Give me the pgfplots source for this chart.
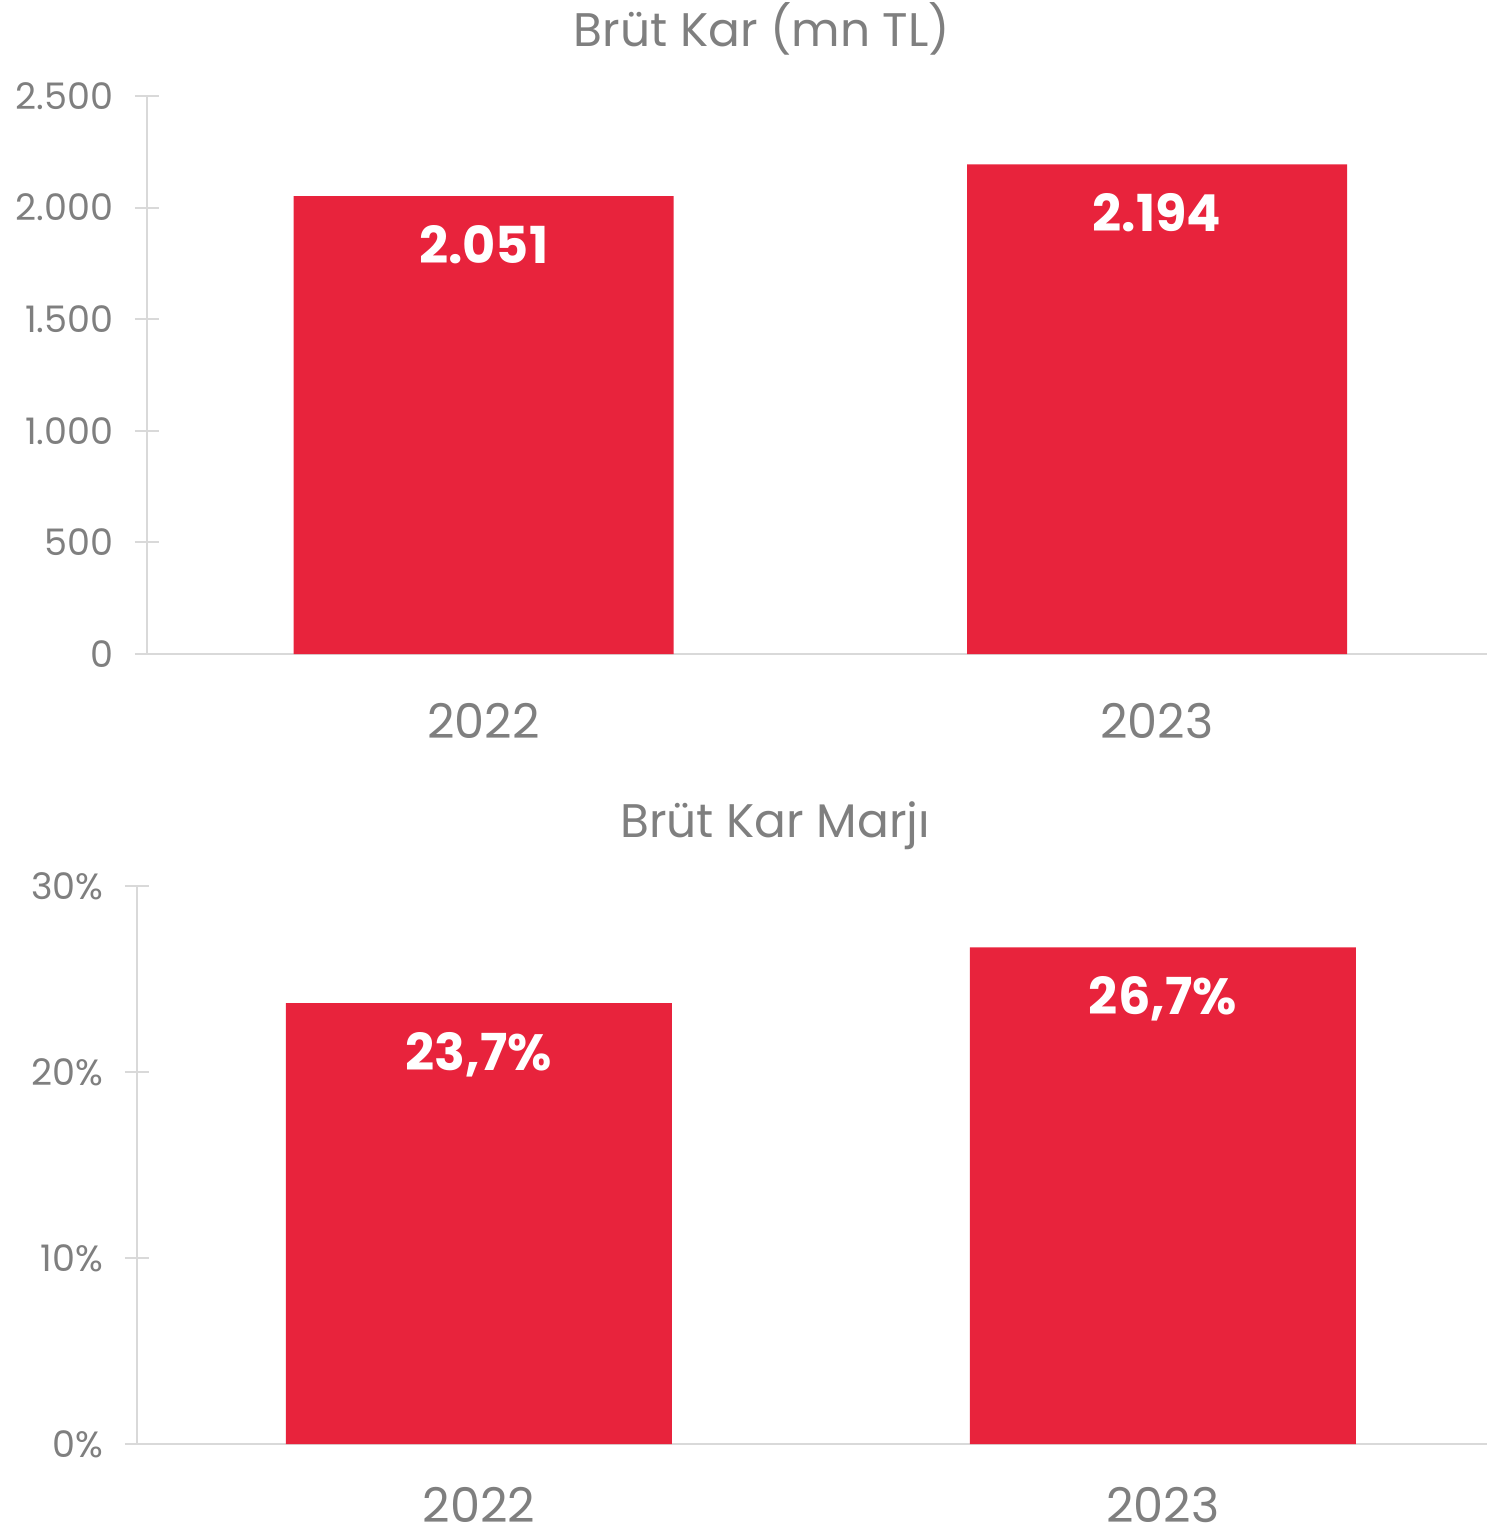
\documentclass[border=0pt]{standalone}
\usepackage{fontspec}
\setmainfont{Poppins}
\usepackage{pgfplots}
\pgfplotsset{compat=1.18}

\definecolor{barred}{HTML}{E8233C}
\definecolor{txtgray}{HTML}{7F7F7F}
\definecolor{axgray}{HTML}{D9D9D9}

\pgfplotsset{
  brutbase/.style={
    scale only axis,
    ybar,
    axis x line*=bottom,
    axis y line*=left,
    axis line style={axgray, line width=0.2mm, -},
    xtick=data,
    xticklabels={2022,2023},
    major x tick style={draw=none},
    major y tick style={axgray, line width=0.2mm},
    ytick align=center,
    major tick length=2.4mm,
    ymin=0,
    enlarge x limits=false,
    /pgf/number format/assume math mode=true,
    yticklabel style={anchor=east, inner sep=0pt, xshift=-2.1mm, txtgray,
      font=\fontsize{10.4pt}{12pt}\selectfont},
    xticklabel style={anchor=base, inner sep=0pt, yshift=-6mm, txtgray,
      font=\fontsize{13.6pt}{16pt}\selectfont},
    point meta=explicit symbolic,
    nodes near coords,
    every node near coord/.append style={anchor=base, yshift=-6.7mm, white,
      inner sep=0pt, font=\fontsize{14.5pt}{17pt}\selectfont\bfseries},
  },
}

\begin{document}
\begin{tikzpicture}
% top: gross profit
\begin{axis}[
  brutbase,
  at={(14.7mm,-65.4mm)}, anchor=south west,
  width=134mm, height=55.8mm,
  xmin=-0.5, xmax=1.49,
  ymax=2500,
  ytick={0,500,1000,1500,2000,2500},
  yticklabel style={/pgf/number format/.cd, 1000 sep={.}},
  bar width=38mm,
]
\addplot[fill=barred, draw=none] coordinates {(0,2051)[2.051] (1,2194)[2.194]};
\end{axis}
\node[anchor=base, txtgray, font=\fontsize{13.4pt}{16pt}\selectfont] at (76.2mm,-4.7mm) {Brüt Kar (mn TL)};

% bottom: gross margin
\begin{axis}[
  brutbase,
  at={(13.7mm,-144.4mm)}, anchor=south west,
  width=135mm, height=55.8mm,
  xmin=-0.5, xmax=1.474,
  ymax=30,
  ytick={0,10,20,30},
  yticklabel={\pgfmathprintnumber{\tick}\%},
  xticklabel style={yshift=0.6mm},
  bar width=38.6mm,
]
\addplot[fill=barred, draw=none] coordinates {(0,23.7)[23,7\%] (1,26.7)[26,7\%]};
\end{axis}
\node[anchor=base, txtgray, font=\fontsize{13.4pt}{16pt}\selectfont] at (77.5mm,-83.7mm) {Brüt Kar Marjı};

\pgfresetboundingbox
\path (0,0) rectangle (148.7mm,-153.6mm);
\end{tikzpicture}
\end{document}
